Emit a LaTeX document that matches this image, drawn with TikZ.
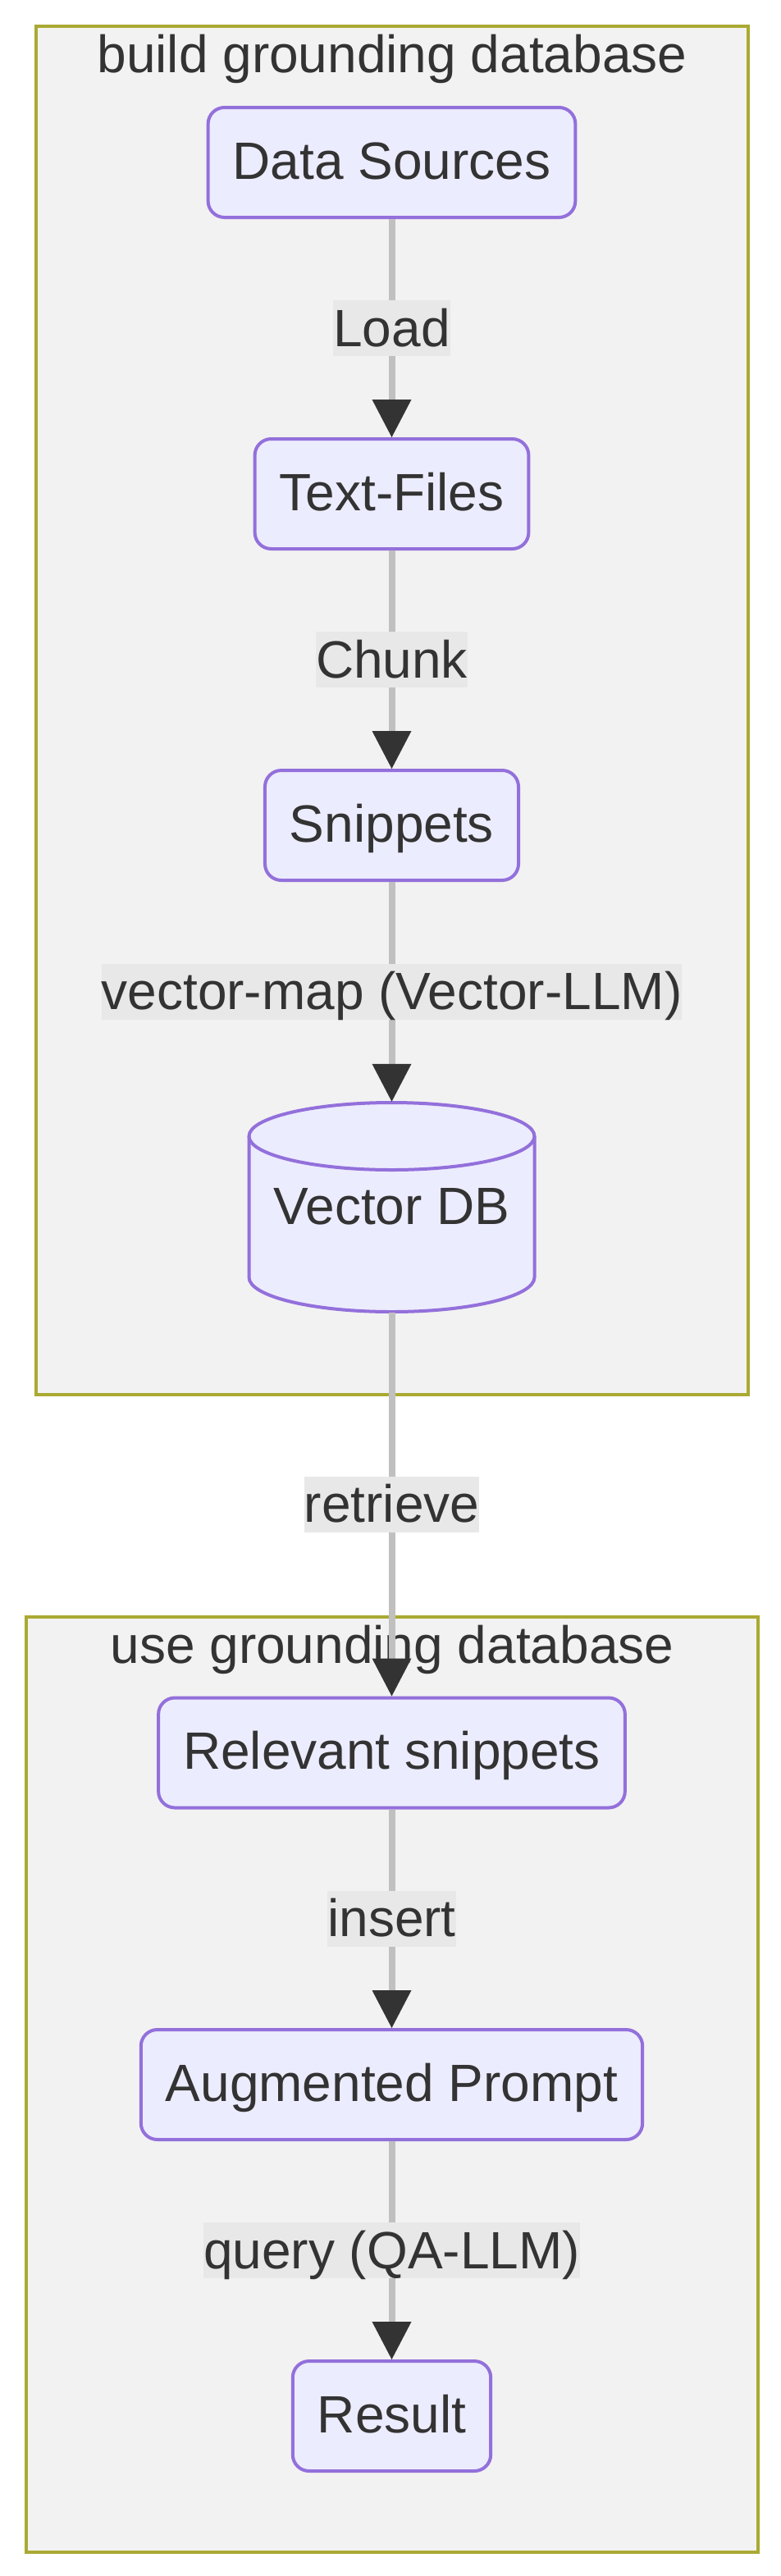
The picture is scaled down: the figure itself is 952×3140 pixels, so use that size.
\documentclass[tikz,border=0pt]{standalone}
\usepackage{fontspec}
\setmainfont{Liberation Sans}
\newcommand\diafont{\fontsize{64}{77}\selectfont}
\definecolor{clfill}{HTML}{F2F2F2}
\definecolor{clstroke}{HTML}{AAAA33}
\definecolor{nodefill}{HTML}{ECECFF}
\definecolor{nodestroke}{HTML}{9370DB}
\definecolor{lblbg}{HTML}{E8E8E8}
\definecolor{edgec}{HTML}{C0C0C0}
\definecolor{arrowc}{HTML}{333333}
\definecolor{txt}{HTML}{333333}
\newcommand\tipat[1]{\fill[arrowc] (#1) -- ++(-24,-46) -- ++(48,0) -- cycle;}
\begin{document}
\begin{tikzpicture}[x=1pt,y=-1pt,
  cluster/.style={draw=clstroke, fill=clfill, line width=4pt},
  cltitle/.style={anchor=base, inner sep=0pt, font=\diafont, text=txt},
  box/.style={draw=nodestroke, fill=nodefill, line width=4pt, rounded corners=20pt,
    minimum height=134pt, inner xsep=30pt, inner ysep=0pt,
    text height=46pt, text depth=6pt, font=\diafont, text=txt},
  lbl/.style={fill=lblbg, inner sep=0pt, text height=56pt, text depth=12pt,
    font=\diafont, text=txt},
  edge/.style={draw=edgec, line width=8pt, shorten >=40pt}]
\useasboundingbox (0,0) rectangle (952,3140);
\fill[white] (0,0) rectangle (952,3140);

% clusters
\draw[cluster] (44,32) rectangle (912,1700);
\node[cltitle] (t1) at (478,88) {build grounding database};
\draw[cluster] (32,1971) rectangle (924,3111);
\node[cltitle] (t2) at (478,2027) {use grounding database};

% nodes
\node[box] (ds) at (477.5,198) {Data Sources};
\node[box] (tf) at (477.5,602) {Text-Files};
\node[box] (sn) at (477.5,1006) {Snippets};
\node[inner sep=0pt, minimum width=348pt, minimum height=257pt] (vdb) at (477.5,1471.5) {};
\node[box] (rs) at (477.5,2136.5) {Relevant snippets};
\node[box] (ap) at (477.5,2541) {Augmented Prompt};
\node[box] (res) at (477.5,2945) {Result};

% cylinder
\fill[nodefill] (303.5,1385) -- (303.5,1557)
  arc[start angle=180, end angle=360, x radius=174pt, y radius=42pt]
  -- (651.5,1385)
  arc[start angle=0, end angle=180, x radius=174pt, y radius=41pt] -- cycle;
\draw[nodestroke, line width=4pt] (303.5,1385) -- (303.5,1557)
  arc[start angle=180, end angle=360, x radius=174pt, y radius=42pt]
  -- (651.5,1385);
\draw[nodestroke, line width=4pt] (477.5,1385) ellipse [x radius=174pt, y radius=41pt];
\node[cltitle] (vdbt) at (477.5,1492) {Vector DB};

% edges
\draw[edge] (ds.south) -- node[lbl] {Load} (tf.north);
\tipat{tf.north}
\draw[edge] (tf.south) -- node[lbl] {Chunk} (sn.north);
\tipat{sn.north}
\draw[edge] (sn.south) -- node[lbl] {vector-map (Vector-LLM)} (vdb.north);
\tipat{vdb.north}
\draw[edge] (vdb.south) -- node[lbl] {retrieve} (rs.north);
\tipat{rs.north}
\draw[edge] (rs.south) -- node[lbl] {insert} (ap.north);
\tipat{ap.north}
\draw[edge] (ap.south) -- node[lbl] {query (QA-LLM)} (res.north);
\tipat{res.north}
\end{tikzpicture}
\end{document}
